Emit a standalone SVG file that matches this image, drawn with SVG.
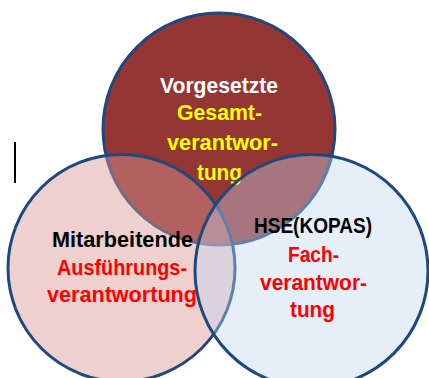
<svg xmlns="http://www.w3.org/2000/svg" width="429" height="378" viewBox="0 0 429 378">
<style>
.c{stroke:#1F497D;stroke-width:3}
text{font-family:"Liberation Sans",Arial,sans-serif;font-weight:bold;font-size:21.5px;text-anchor:middle}
.w{fill:#FFFFFF}.y{fill:#FFFF00}.k{fill:#000000}.r{fill:#FF0000}
</style>
<rect width="429" height="378" fill="#FFFFFF"/>
<line x1="15" y1="142" x2="15" y2="183" stroke="#000" stroke-width="2"/>
<g id="vorgesetzte">
<circle class="c" cx="219" cy="129" r="116" fill="#943634"/>
<text x="219" y="93" class="w" textLength="118" lengthAdjust="spacingAndGlyphs">Vorgesetzte</text>
<text x="219.5" y="120" class="y" textLength="85" lengthAdjust="spacingAndGlyphs">Gesamt-</text>
<text x="222.5" y="150" class="y" textLength="111" lengthAdjust="spacingAndGlyphs">verantwor-</text>
<text x="219.5" y="180" class="y" textLength="45" lengthAdjust="spacingAndGlyphs">tung</text>
</g>
<g id="mitarbeitende">
<circle class="c" cx="121.5" cy="268" r="113.5" fill="rgb(217,150,148)" fill-opacity="0.45"/>
<text x="122.5" y="247" class="k" textLength="141" lengthAdjust="spacingAndGlyphs">Mitarbeitende</text>
<text x="122" y="275" class="r" textLength="130" lengthAdjust="spacingAndGlyphs">Ausführungs-</text>
<text x="122" y="302" class="r" textLength="150" lengthAdjust="spacingAndGlyphs">verantwortung</text>
</g>
<g id="hse">
<circle class="c" cx="311.5" cy="271" r="116.5" fill="rgb(192,212,237)" fill-opacity="0.4"/>
<text x="313" y="233" class="k" textLength="118" lengthAdjust="spacingAndGlyphs">HSE(KOPAS)</text>
<text x="313.5" y="262" class="r" textLength="51" lengthAdjust="spacingAndGlyphs">Fach-</text>
<text x="313.5" y="290" class="r" textLength="107" lengthAdjust="spacingAndGlyphs">verantwor-</text>
<text x="312.5" y="317" class="r" textLength="45" lengthAdjust="spacingAndGlyphs">tung</text>
</g>
<g id="connectors"/>
</svg>
